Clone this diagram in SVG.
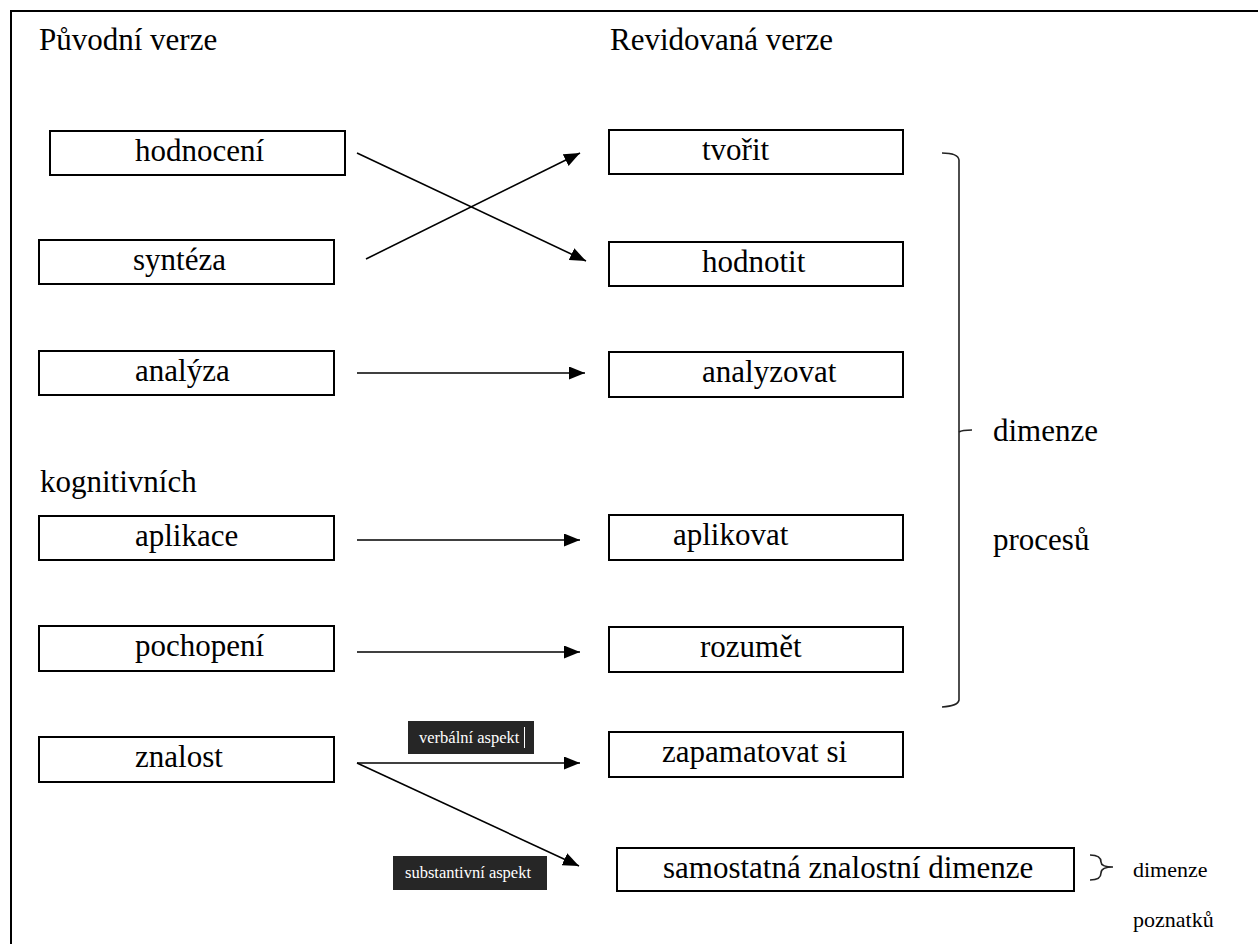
<svg xmlns="http://www.w3.org/2000/svg" width="1258" height="944" viewBox="0 0 1258 944" font-family="Liberation Serif, serif">
<defs>
<marker id="ah" markerWidth="18" markerHeight="14" refX="16" refY="6.5" orient="auto" markerUnits="userSpaceOnUse">
<path d="M0,0 L16,6.5 L0,13 Z" fill="#000"/>
</marker>
<style>
.box{fill:#fff;stroke:#000;stroke-width:2}
.t{font-size:31px;fill:#000}
.s{font-size:22px;fill:#000}
.lbl{fill:#262626}
.lt{font-size:16.5px;fill:#fff}
.c{fill:none;stroke:#000;stroke-width:1.6}
.br{fill:none;stroke:#222;stroke-width:1.6}
</style>
</defs>
<rect x="11" y="11" width="1260" height="950" fill="#fff" stroke="#000" stroke-width="2"/>
<g font-family="Liberation Serif, serif">
<text class="t" x="39" y="50" font-family="Liberation Serif, serif">Původní verze</text>
<text class="t" x="610" y="50" font-family="Liberation Serif, serif">Revidovaná verze</text>
<text class="t" x="40" y="492" font-family="Liberation Serif, serif">kognitivních</text>

<g id="n-hodnoceni"><rect class="box" x="50" y="131" width="295" height="44"/><text class="t" x="135" y="161" font-family="Liberation Serif, serif">hodnocení</text></g>
<g id="n-synteza"><rect class="box" x="39" y="240" width="295" height="44"/><text class="t" x="133" y="270" font-family="Liberation Serif, serif">syntéza</text></g>
<g id="n-analyza"><rect class="box" x="39" y="351" width="295" height="44"/><text class="t" x="135" y="381" font-family="Liberation Serif, serif">analýza</text></g>
<g id="n-aplikace"><rect class="box" x="39" y="516" width="295" height="44"/><text class="t" x="135" y="546" font-family="Liberation Serif, serif">aplikace</text></g>
<g id="n-pochopeni"><rect class="box" x="39" y="626" width="295" height="45"/><text class="t" x="135" y="656" font-family="Liberation Serif, serif">pochopení</text></g>
<g id="n-znalost"><rect class="box" x="39" y="737" width="295" height="45"/><text class="t" x="135" y="767" font-family="Liberation Serif, serif">znalost</text></g>

<g id="n-tvorit"><rect class="box" x="609" y="130" width="294" height="44"/><text class="t" x="702" y="160" font-family="Liberation Serif, serif">tvořit</text></g>
<g id="n-hodnotit"><rect class="box" x="609" y="242" width="294" height="44"/><text class="t" x="702" y="272" font-family="Liberation Serif, serif">hodnotit</text></g>
<g id="n-analyzovat"><rect class="box" x="609" y="352" width="294" height="45"/><text class="t" x="702" y="382" font-family="Liberation Serif, serif">analyzovat</text></g>
<g id="n-aplikovat"><rect class="box" x="609" y="515" width="294" height="45"/><text class="t" x="673" y="545" font-family="Liberation Serif, serif">aplikovat</text></g>
<g id="n-rozumet"><rect class="box" x="609" y="627" width="294" height="45"/><text class="t" x="700" y="657" font-family="Liberation Serif, serif">rozumět</text></g>
<g id="n-zapamatovat"><rect class="box" x="609" y="732" width="294" height="45"/><text class="t" x="662" y="762" font-family="Liberation Serif, serif">zapamatovat si</text></g>
<g id="n-samostatna"><rect class="box" x="617" y="848" width="457" height="43"/><text class="t" x="663" y="878" font-family="Liberation Serif, serif">samostatná znalostní dimenze</text></g>
</g>

<g id="connectors">
<line class="c" x1="357" y1="153" x2="586" y2="261" marker-end="url(#ah)"/>
<line class="c" x1="366" y1="259" x2="580" y2="153" marker-end="url(#ah)"/>
<line class="c" x1="357" y1="373" x2="585" y2="373" marker-end="url(#ah)"/>
<line class="c" x1="357" y1="540" x2="580" y2="540" marker-end="url(#ah)"/>
<line class="c" x1="357" y1="652" x2="580" y2="652" marker-end="url(#ah)"/>
<line class="c" x1="357" y1="763" x2="580" y2="763" marker-end="url(#ah)"/>
<line class="c" x1="357" y1="763" x2="579" y2="866" marker-end="url(#ah)"/>
</g>

<g id="label-verbalni">
<rect class="lbl" x="408" y="721" width="126" height="33"/>
<text class="lt" x="419" y="743" font-family="Liberation Serif, serif">verbální aspekt</text>
<line x1="524.5" y1="727" x2="524.5" y2="748" stroke="#fff" stroke-width="1"/>
</g>
<g id="label-substantivni">
<rect class="lbl" x="393" y="856" width="154" height="34"/>
<text class="lt" x="405" y="878" font-family="Liberation Serif, serif">substantivní aspekt</text>
</g>

<g id="brace-procesu">
<path class="br" d="M942,153 Q958,153 959,160 L959,700 Q958,706 942,707"/>
<path class="br" d="M959,432 Q962,430 972,430"/>
<text class="t" x="993" y="441" font-family="Liberation Serif, serif">dimenze</text>
<text class="t" x="993" y="550" font-family="Liberation Serif, serif">procesů</text>
</g>
<g id="brace-poznatku">
<path class="br" d="M1090,855 Q1101,855 1101,862 Q1101,867 1113,867 Q1101,867 1101,873 Q1101,880 1090,880"/>
<text class="s" x="1133" y="877" font-family="Liberation Serif, serif">dimenze</text>
<text class="s" x="1133" y="927" font-family="Liberation Serif, serif">poznatků</text>
</g>
</svg>
